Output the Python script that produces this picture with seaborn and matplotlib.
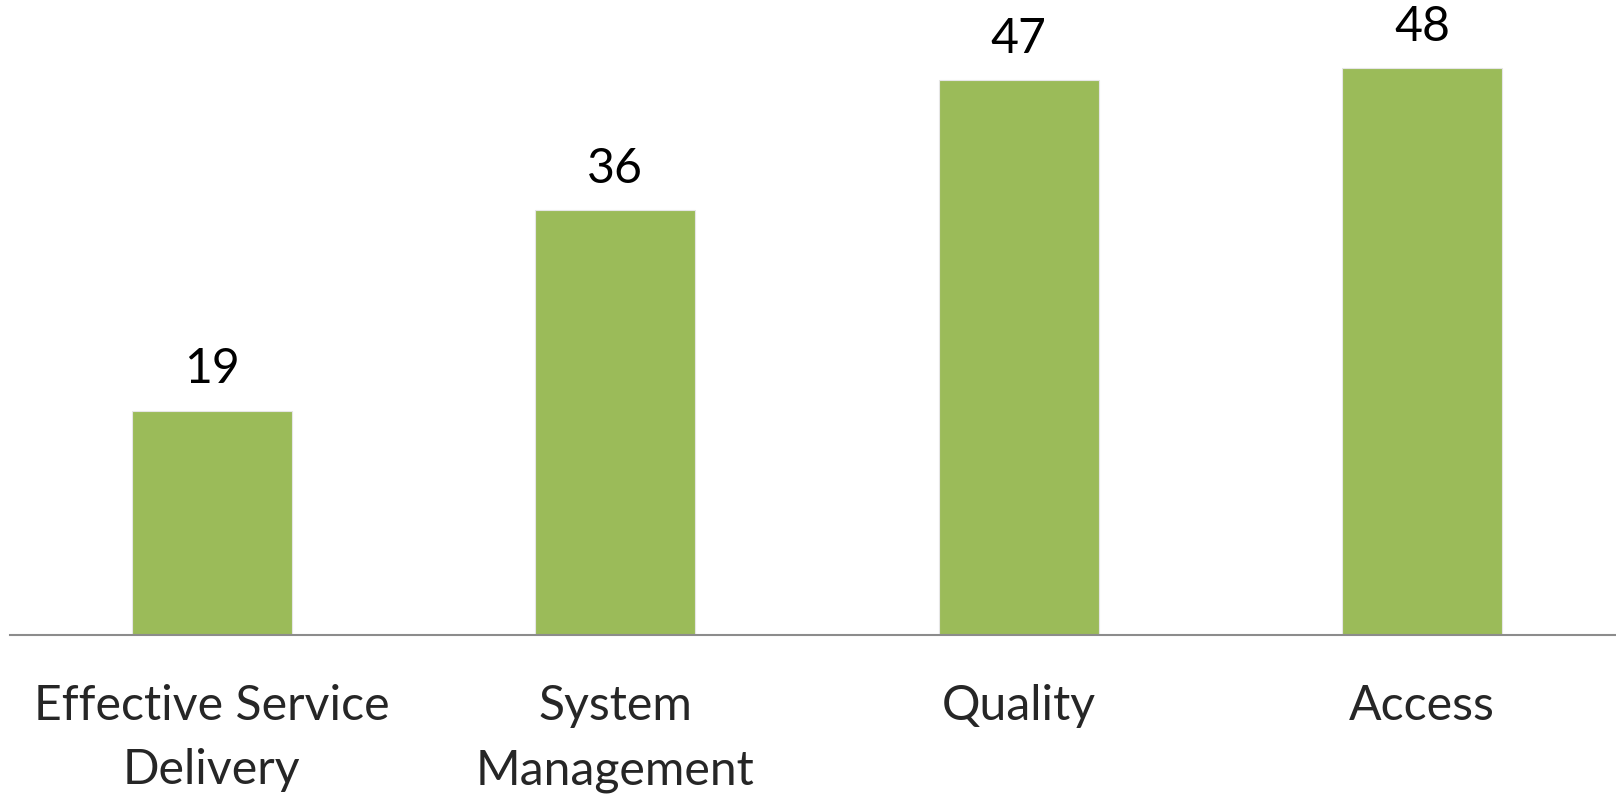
import matplotlib
matplotlib.use("Agg")
import matplotlib.pyplot as plt
import seaborn as sns
import pandas as pd

categories = ["Effective Service\nDelivery", "System\nManagement", "Quality", "Access"]
values = [19, 36, 47, 48]

df = pd.DataFrame({"category": categories, "value": values})

sns.set_theme(style="white")
plt.rcParams["font.family"] = ["Lato", "DejaVu Sans"]

fig = plt.figure(figsize=(16.16, 7.95), dpi=100)
ax = fig.add_axes([10 / 1616, 160 / 795, 1614 / 1616, 635 / 795])

sns.barplot(data=df, x="category", y="value", color="#9BBB59", saturation=1,
            width=0.397, ax=ax, edgecolor="#e6e6e6", linewidth=0.8)

ax.set_xlim(-0.5, 3.5)
ax.set_ylim(0, 53.8)
ax.set_xlabel("")
ax.set_ylabel("")
ax.set_yticks([])
for side in ["top", "right", "left"]:
    ax.spines[side].set_visible(False)
ax.spines["bottom"].set_color("#8c8c8c")
ax.spines["bottom"].set_linewidth(1.5)

ax.tick_params(axis="x", length=0, pad=35, labelsize=34.7)
for lbl in ax.get_xticklabels():
    lbl.set_linespacing(1.57)
    lbl.set_verticalalignment("top")

for i, v in enumerate(values):
    ax.annotate(f"{v}", (i, v), xytext=(0, 14), textcoords="offset points",
                ha="center", va="bottom", fontsize=34.7, color="black")

fig.savefig("out.png", dpi=100)
